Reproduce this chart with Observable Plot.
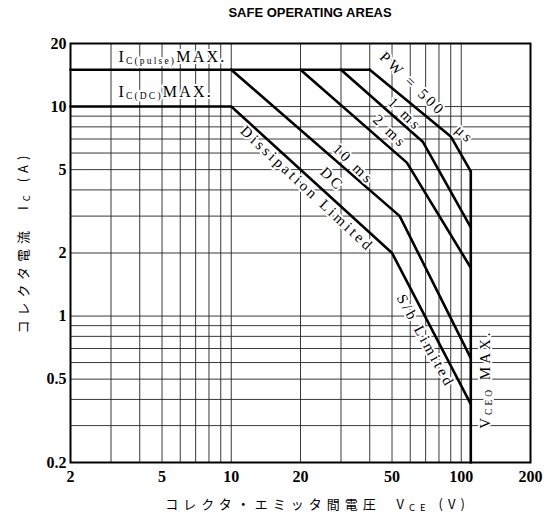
<!DOCTYPE html>
<html><head><meta charset="utf-8">
<script src="https://cdn.jsdelivr.net/npm/d3@7"></script>
<script src="https://cdn.jsdelivr.net/npm/@observablehq/plot@0.6"></script>
<style>
body{margin:0;background:#fff;}
#title{font-family:"Liberation Sans",Arial,sans-serif;font-weight:bold;font-size:13px;height:25px;line-height:25px;width:482px;padding-left:69px;text-align:center;color:#000;}
</style></head><body>
<div id="title">SAFE OPERATING AREAS</div>
<div id="chart"></div>
<script>
// ticks
const xTicks = [2, 5, 10, 20, 50, 100, 200];
const yTicks = [0.2, 0.5, 1, 2, 5, 10, 20];
const yTickLabels = ["0.2", "0.5", "1", "2", "5", "10", "20"];
const xGrid = [3, 4, 5, 6, 7, 8, 9, 10, 20, 30, 40, 50, 60, 70, 80, 90, 100];
const yGrid = [0.3, 0.4, 0.5, 0.6, 0.7, 0.8, 0.9, 1, 2, 3, 4, 5, 6, 7, 8, 9, 10];

// curves (V, A)
const pulseV = [2, 40],            pulseI = [15, 15];
const dcV    = [2, 10, 50, 110],   dcI    = [10, 10, 2.0, 0.38];
const ms10V  = [10, 54, 110],      ms10I  = [15, 3.0, 0.63];
const ms2V   = [20, 58, 110],      ms2I   = [15, 5.4, 1.7];
const ms1V   = [30, 68, 110],      ms1I   = [15, 6.8, 2.65];
const us500V = [40, 90, 110],      us500I = [15, 7.2, 4.9];
const vceoV  = [110, 110],         vceoI  = [4.9, 0.2];

// annotations: horizontal (start-anchored) and rotated (centred)
const maxText = ["I_{C(pulse)}MAX.", "I_{C(DC)}MAX."];
const maxV    = [3.23, 3.23];
const maxI    = [17.3, 11.7];
const labelText  = ["PW = 500   μs", "1 ms", "2 ms", "10 ms", "DC", "Dissipation Limited", "S/b Limited", "V_{CEO} MAX."];
const labelV     = [71, 57, 49, 34, 27.5, 21.4, 70, 127];
const labelI     = [11.0, 9.2, 7.6, 5.3, 4.5, 4.05, 0.76, 0.5];
const labelAngle = [44, 44, 44, 44, 44, 43, 61, -90];

const xTitle = "コレクタ・エミッタ間電圧  V_{CE} (V)";
const yTitle = "コレクタ電流  I_{C} (A)";

const series = [
  ["pulse", pulseV, pulseI], ["dc", dcV, dcI], ["10ms", ms10V, ms10I],
  ["2ms", ms2V, ms2I], ["1ms", ms1V, ms1I], ["500us", us500V, us500I], ["vceo", vceoV, vceoI]
];
const rows = series.flatMap(([s, V, I]) => V.map((v, k) => ({s, v, i: I[k]})));
const maxLabels = maxText.map((t, k) => ({t, v: maxV[k], i: maxI[k]}));
const labels = labelText.map((t, k) => ({t, v: labelV[k], i: labelI[k], a: labelAngle[k]}));

const serif = "Liberation Serif, Times New Roman, serif";
const halo = {fill: "#000", stroke: "#fff", strokeWidth: 4, paintOrder: "stroke"};
const plot = Plot.plot({
  width: 551, height: 500,
  marginLeft: 70, marginRight: 21, marginTop: 18, marginBottom: 63,
  x: {type: "log", domain: [2, 200], axis: null},
  y: {type: "log", domain: [0.2, 20], axis: null},
  style: {background: "#fff", color: "#000"},
  marks: [
    Plot.ruleX(xGrid, {stroke: "#222", strokeWidth: 0.9}),
    Plot.ruleY(yGrid, {stroke: "#222", strokeWidth: 0.9}),
    Plot.line(rows, {x: "v", y: "i", z: "s", stroke: "#000", strokeWidth: 2.6, strokeLinejoin: "round"}),
    Plot.frame({stroke: "#000", strokeWidth: 2}),
    Plot.text(maxLabels, {x: "v", y: "i", text: "t", textAnchor: "start", fontFamily: serif, fontSize: 16, ...halo}),
    Plot.text(labels, {x: "v", y: "i", text: "t", rotate: "a", textAnchor: "middle", fontFamily: serif, fontSize: 15, ...halo}),
    Plot.text(xTicks, {x: d => d, frameAnchor: "bottom", dy: 19, text: d => String(d),
      fontFamily: serif, fontSize: 16, fontWeight: "bold", fill: "#000"}),
    Plot.text(yTicks, {y: d => d, frameAnchor: "left", dx: -4, textAnchor: "end", text: d => yTickLabels[yTicks.indexOf(d)],
      fontFamily: serif, fontSize: 16, fontWeight: "bold", fill: "#000"}),
    Plot.text([yTitle], {frameAnchor: "left", dx: -47, dy: -11, rotate: -90, textAnchor: "middle", text: d => d,
      fontFamily: "Noto Sans CJK JP, sans-serif", fontSize: 13, fill: "#000"}),
    Plot.text([xTitle], {frameAnchor: "bottom", dy: 46, dx: 17, textAnchor: "middle", text: d => d,
      fontFamily: "Noto Sans CJK JP, sans-serif", fontSize: 13, fill: "#000"})
  ]
});
document.getElementById("chart").appendChild(plot);

// letter spacing for annotation and axis titles
const spacing = new Map([...maxText.map(t => [t, 2.2]), ...labelText.map(t => [t, 3]), [xTitle, 5], [yTitle, 5]]);
plot.querySelectorAll("text").forEach(t => {
  const ls = spacing.get(t.textContent);
  if (ls != null) t.style.letterSpacing = ls + "px";
});

// render subscripts written as _{...}
plot.querySelectorAll("text").forEach(t => {
  const s = t.textContent;
  if (!s.includes("_{")) return;
  const parts = s.split(/_\{([^}]*)\}/);
  t.textContent = "";
  let shifted = false;
  parts.forEach((p, k) => {
    if (!p) return;
    const ts = document.createElementNS("http://www.w3.org/2000/svg", "tspan");
    ts.textContent = p;
    if (k % 2 === 1) {
      ts.setAttribute("font-size", "9.5");
      ts.setAttribute("dy", "2");
      shifted = true;
    } else if (shifted) {
      ts.setAttribute("dy", "-2");
      shifted = false;
    }
    t.appendChild(ts);
  });
});
</script>
</body></html>
